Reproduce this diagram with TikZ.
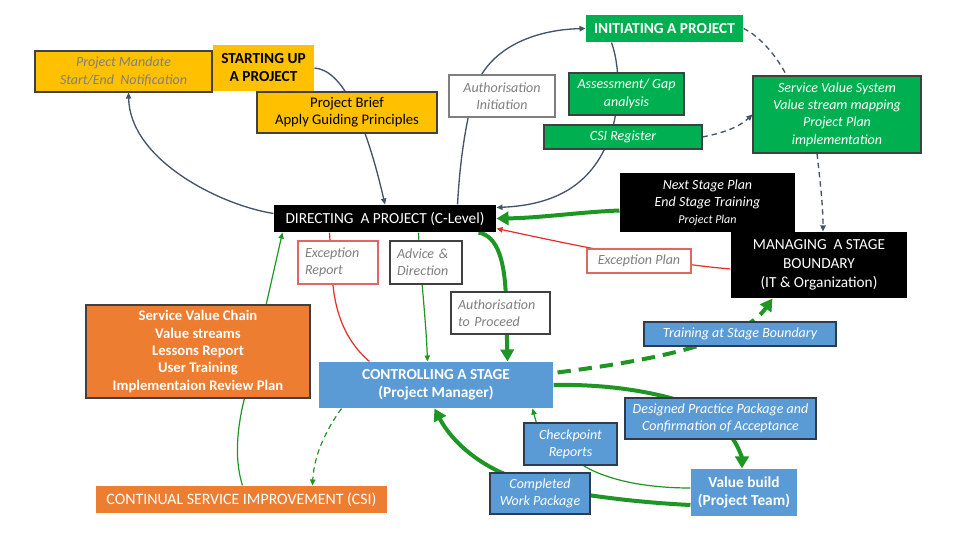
\documentclass[tikz,border=0pt]{standalone}
\usepackage{fontspec}
\setmainfont{Carlito}
\usetikzlibrary{arrows.meta,calc}
\definecolor{cyel}{HTML}{FFC000}
\definecolor{cgrn}{HTML}{00B050}
\definecolor{cblu}{HTML}{5B9BD5}
\definecolor{corg}{HTML}{ED7D31}
\definecolor{cgray}{HTML}{44546A}
\definecolor{ctxt}{HTML}{7F7F7F}
\definecolor{cdark}{HTML}{404040}
\definecolor{cnavy}{HTML}{2F3B4F}
\definecolor{cline}{RGB}{30,150,35}
\definecolor{cred}{RGB}{228,45,40}
\definecolor{cpink}{HTML}{E06666}
\newcommand\basefont{\fontsize{11}{13}\selectfont}
\newcommand\itfont{\fontsize{10.5}{13}\selectfont\itshape}
\newcommand\bigfont{\fontsize{11.5}{13.5}\selectfont}
\pgfdeclarelayer{back}
\pgfdeclarelayer{bg}
\pgfsetlayers{back,bg,main}
\begin{document}
\begin{tikzpicture}[x=0.75pt,y=-0.75pt,
  box/.style={rectangle, inner sep=0pt, align=center, font=\basefont, line width=0.8pt},
  ibox/.style={box, font=\itfont},
  bbox/.style={box, font=\bigfont\bfseries},
  lbox/.style={ibox, align=left, inner xsep=5.25pt, text width=#1},
  wh/.style 2 args={minimum width=#1*0.75pt, minimum height=#2*0.75pt},
  gl/.style={draw=cgray, line width=1pt},
  gthin/.style={draw=cline, line width=0.9pt},
  redline/.style={draw=cred, line width=0.9pt},
  tip/.style={-{Triangle[length=4.5pt,width=4pt]}},
  tg/.style={draw=cline, line width=3pt, -{Triangle[length=9pt,width=10pt]}},
  gdash/.style={dash pattern=on 4pt off 3pt}
]
\begin{pgfonlayer}{back}
\fill[white] (0,0) rectangle (972,547);
\end{pgfonlayer}
\useasboundingbox (0,0) rectangle (972,547);

% nodes
\node[ibox, wh={177}{41}, fill=cyel, draw=cdark, text=ctxt] (mandate) at (123.5,71.5) {Project Mandate\\Start/End\ \ Notification};
\node[bbox, wh={101}{46}, fill=cyel] (startup) at (263.5,68) {STARTING UP\\A PROJECT};
\node[box, wh={180}{41}, fill=cyel, draw=cdark] (brief) at (347,112.5) {Project Brief\\Apply Guiding Principles};
\node[box, wh={222}{27}, fill=black, text=white, font=\bigfont] (direct) at (385,218.5) {DIRECTING\ \ A PROJECT (C-Level)};
\node[bbox, wh={157}{27}, fill=cgrn, text=white] (init) at (664.5,28.5) {INITIATING A PROJECT};
\node[ibox, wh={106}{42}, fill=white, draw=ctxt, text=ctxt] (authinit) at (502,96) {Authorisation\\Initiation};
\node[ibox, wh={115}{42}, fill=cgrn, draw=cdark, text=white] (assess) at (626.5,94) {Assessment/ Gap\\analysis};
\node[ibox, wh={158}{24}, fill=cgrn, draw=cdark, text=white] (csireg) at (623,137) {CSI Register};
\node[ibox, wh={168}{77}, fill=cgrn, draw=cdark, text=white] (svs) at (837,114.5) {Service Value System\\Value stream mapping\\Project Plan\\implementation};
\node[ibox, wh={175}{59}, fill=black, text=white] (nextstage) at (707.5,202.5) {Next Stage Plan\\End Stage Training\\{\fontsize{9}{11}\selectfont Project Plan}};
\node[box, wh={176}{66}, fill=black, text=white, font=\fontsize{11.5}{14}\selectfont] (managing) at (819,265) {MANAGING\ \ A STAGE\\BOUNDARY\\(IT \& Organization)};
\node[ibox, wh={104}{24}, fill=white, draw=cpink, text=ctxt] (excplan) at (639,261) {Exception Plan};
\node[ibox, wh={192}{24}, fill=cblu, draw=cnavy, text=white] (training) at (740,334) {Training at Stage Boundary};
\node[lbox=49.5pt, minimum height=43*0.75pt, fill=white, draw=cpink, text=ctxt] (excreport) at (338,262.5) {Exception\\Report};
\node[lbox=43.5pt, minimum height=43*0.75pt, fill=white, draw=cdark, text=ctxt] (advice) at (426,262.5) {Advice \&\\Direction};
\node[lbox=63.75pt, minimum height=42*0.75pt, fill=white, draw=cdark, text=ctxt] (authproceed) at (500.5,313) {Authorisation\\to Proceed};
\node[bbox, wh={234}{46}, fill=cblu, text=white] (control) at (436,385) {CONTROLLING A STAGE\\(Project Manager)};
\node[box, font=\basefont\bfseries, wh={224}{93}, fill=corg, draw=cdark, text=white] (svc) at (198,351.5) {Service Value Chain\\Value streams\\Lessons Report\\User Training\\Implementaion Review Plan};
\node[box, font=\fontsize{11.9}{14}\selectfont, wh={291}{27}, fill=corg, text=white] (csi) at (241.5,499.5) {CONTINUAL SERVICE IMPROVEMENT (CSI)};
\node[ibox, wh={93}{42}, fill=cblu, draw=cnavy, text=white] (checkpoint) at (570.5,444) {Checkpoint\\Reports};
\node[ibox, wh={100}{41}, fill=cblu, draw=cnavy, text=white] (completed) at (540,493.5) {Completed\\Work Package};
\node[ibox, wh={191}{41}, fill=cblu, draw=cnavy, text=white] (designed) at (720.5,418.5) {Designed Practice Package and\\Confirmation of Acceptance};
\node[bbox, wh={106}{47}, fill=cblu, text=white] (valuebuild) at (744,492.5) {Value build\\(Project Team)};

% connectors
\begin{pgfonlayer}{bg}
\draw[gl, tip] (startup.east) .. controls (342,70) and (365,118) .. (direct.north);
\draw[gl, tip] ($(direct.west)+(0,-5)$) .. controls (220,205) and (130,160) .. ($(mandate.south)+(5,0)$);
\draw[gl, tip] ($(direct.north east)+(-39,0)$) .. controls (460,160) and (465,130) .. (472,100) .. controls (480,55) and (525,30) .. (init.west);
\draw[gl, tip] ($(init.south west)+(26,0)$) .. controls (618,60) and (622,95) .. (612,130) .. controls (595,185) and (555,205) .. ($(direct.east)+(0,-11)$);
\draw[gl, gdash] (init.east) .. controls (760,36) and (778,58) .. ($(svs.north west)+(34,0)$);
\draw[gl, gdash, tip] (csireg.east) .. controls (722,133) and (738,128) .. (svs.west);
\draw[gl, gdash, tip] ($(svs.south)+(-20,0)$) .. controls (820,180) and (823,205) .. ($(managing.north)+(4,0)$);
\draw[tg] ($(nextstage.west)+(0,8)$) .. controls (580,212) and (540,218) .. (direct.east);
\draw[redline, tip] ($(managing.west)+(0,4)$) .. controls (650,262) and (560,242) .. ($(direct.south east)+(0,-4)$);
\draw[tg] ($(direct.south east)+(-18,0)$) .. controls (498,236) and (505,262) .. (506,300) -- ($(control.north east)+(-46,0)$);
\draw[redline] ($(control.north west)+(51,0)$) .. controls (342,338) and (333,305) .. (332,270) -- ($(direct.south west)+(56,0)$);
\draw[gthin, tip] ($(direct.south west)+(145,0)$) .. controls (421,280) and (426,320) .. ($(control.north west)+(109,0)$);
\draw[gthin, tip] ($(csi.north west)+(147,0)$) .. controls (233,455) and (238,420) .. (248,385) -- ($(direct.south west)+(9,0)$);
\draw[gthin, gdash, tip] ($(control.south west)+(23,0)$) .. controls (326,430) and (314,455) .. ($(csi.north west)+(217,0)$);
\draw[tg, dash pattern=on 10pt off 6pt] ($(control.north east)+(4,11)$) .. controls (640,362) and (740,345) .. ($(managing.south west)+(42,0)$);
\draw[tg] (control.east) .. controls (600,384) and (650,390) .. (690,404) -- (733,439) .. controls (739,448) and (742,458) .. ($(valuebuild.north)+(-2,0)$);
\draw[gthin, tip] ($(valuebuild.west)+(0,-4.5)$) .. controls (640,488) and (600,478) .. (578,462) -- (537,425) -- ($(control.south west)+(214,0)$);
\draw[tg] ($(valuebuild.west)+(0,12.5)$) .. controls (650,503) and (615,499) .. (588,495) -- (515,478) .. controls (480,466) and (452,442) .. ($(control.south west)+(116,0)$);
\end{pgfonlayer}
\end{tikzpicture}
\end{document}
